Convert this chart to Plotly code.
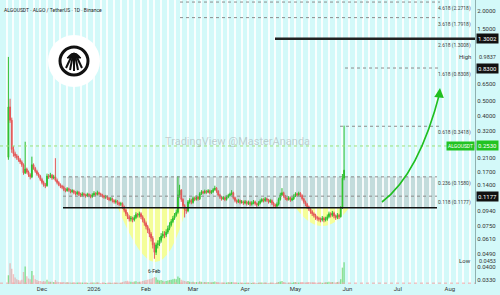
import math
import pandas as pd
import plotly.graph_objects as go

# ---------------- data ----------------
start_date = "2025-11-11"
first_open = 0.213
closes = [
    0.459, 0.375, 0.240, 0.225, 0.218, 0.212, 0.205, 0.198, 0.190, 0.168,
    0.178, 0.170, 0.163, 0.158, 0.190, 0.180, 0.172, 0.165, 0.160, 0.152,
    0.145, 0.140, 0.138, 0.160, 0.158, 0.162, 0.155, 0.158, 0.150, 0.145,
    0.140, 0.137, 0.135, 0.130, 0.128, 0.132, 0.129, 0.126, 0.128, 0.124,
    0.122, 0.125, 0.121, 0.119, 0.122, 0.120, 0.118, 0.121, 0.119, 0.117,
    0.120, 0.123, 0.121, 0.124, 0.122, 0.120, 0.118, 0.116, 0.117, 0.114,
    0.112, 0.113, 0.110, 0.108, 0.109, 0.106, 0.104, 0.105, 0.100, 0.095,
    0.090, 0.086, 0.083, 0.084, 0.082, 0.085, 0.089, 0.088, 0.090, 0.086,
    0.082, 0.078, 0.074, 0.070, 0.066, 0.062, 0.056, 0.050, 0.056, 0.057,
    0.060, 0.064, 0.066, 0.065, 0.068, 0.072, 0.076, 0.080, 0.084, 0.088,
    0.092, 0.120, 0.129, 0.112, 0.102, 0.096, 0.094, 0.108, 0.110, 0.107,
    0.114, 0.112, 0.116, 0.113, 0.122, 0.126, 0.124, 0.127, 0.125, 0.128,
    0.124, 0.126, 0.130, 0.133, 0.127, 0.120, 0.116, 0.113, 0.115, 0.112,
    0.116, 0.119, 0.121, 0.124, 0.115, 0.110, 0.108, 0.110, 0.107, 0.108,
    0.106, 0.108, 0.105, 0.107, 0.104, 0.106, 0.108, 0.105, 0.103, 0.106,
    0.109, 0.112, 0.110, 0.113, 0.111, 0.108, 0.110, 0.106, 0.103, 0.101,
    0.104, 0.112, 0.120, 0.124, 0.118, 0.114, 0.112, 0.115, 0.111, 0.113,
    0.118, 0.122, 0.120, 0.123, 0.119, 0.113, 0.108, 0.104, 0.100, 0.097,
    0.093, 0.090, 0.088, 0.085, 0.084, 0.083, 0.082, 0.084, 0.082, 0.083,
    0.086, 0.090, 0.088, 0.091, 0.087, 0.085, 0.088, 0.086, 0.098, 0.155,
    0.175,
]
highs = [
    0.984, 0.52, 0.39, 0.252, 0.232, 0.224, 0.218, 0.210, 0.203, 0.194,
    0.27, 0.182, 0.174, 0.167, 0.215, 0.194, 0.184, 0.176, 0.169, 0.163,
    0.156, 0.149, 0.144, 0.166, 0.165, 0.168, 0.165, 0.163, 0.21, 0.154,
    0.148, 0.143, 0.140, 0.138, 0.133, 0.135, 0.134, 0.131, 0.131, 0.130,
    0.127, 0.128, 0.127, 0.124, 0.125, 0.124, 0.122, 0.124, 0.123, 0.121,
    0.123, 0.127, 0.125, 0.128, 0.126, 0.124, 0.122, 0.120, 0.120, 0.119,
    0.116, 0.116, 0.115, 0.112, 0.112, 0.111, 0.108, 0.108, 0.107, 0.102,
    0.097, 0.092, 0.088, 0.087, 0.086, 0.088, 0.092, 0.091, 0.093, 0.092,
    0.088, 0.084, 0.080, 0.076, 0.072, 0.068, 0.064, 0.058, 0.058, 0.060,
    0.063, 0.067, 0.069, 0.069, 0.071, 0.075, 0.079, 0.083, 0.087, 0.091,
    0.096, 0.160, 0.140, 0.131, 0.114, 0.104, 0.099, 0.111, 0.114, 0.113,
    0.117, 0.117, 0.119, 0.118, 0.125, 0.129, 0.128, 0.130, 0.129, 0.131,
    0.130, 0.129, 0.133, 0.138, 0.135, 0.129, 0.122, 0.118, 0.118, 0.117,
    0.119, 0.122, 0.124, 0.129, 0.126, 0.117, 0.112, 0.113, 0.112, 0.111,
    0.110, 0.111, 0.110, 0.110, 0.109, 0.109, 0.111, 0.110, 0.107, 0.109,
    0.112, 0.115, 0.114, 0.116, 0.115, 0.113, 0.113, 0.112, 0.108, 0.105,
    0.107, 0.115, 0.124, 0.133, 0.126, 0.120, 0.116, 0.118, 0.117, 0.116,
    0.121, 0.125, 0.124, 0.126, 0.125, 0.121, 0.115, 0.110, 0.106, 0.102,
    0.099, 0.095, 0.092, 0.090, 0.087, 0.086, 0.085, 0.087, 0.086, 0.086,
    0.089, 0.093, 0.092, 0.094, 0.093, 0.089, 0.091, 0.090, 0.101, 0.165,
    0.345,
]
lows = [
    0.205, 0.36, 0.228, 0.215, 0.210, 0.205, 0.199, 0.192, 0.184, 0.163,
    0.165, 0.166, 0.158, 0.152, 0.155, 0.176, 0.168, 0.161, 0.156, 0.148,
    0.141, 0.136, 0.133, 0.136, 0.153, 0.155, 0.151, 0.152, 0.147, 0.141,
    0.137, 0.133, 0.131, 0.127, 0.125, 0.126, 0.126, 0.123, 0.124, 0.121,
    0.119, 0.120, 0.118, 0.116, 0.117, 0.117, 0.115, 0.116, 0.116, 0.114,
    0.115, 0.118, 0.118, 0.119, 0.119, 0.117, 0.115, 0.113, 0.113, 0.111,
    0.109, 0.109, 0.107, 0.105, 0.105, 0.103, 0.101, 0.101, 0.097, 0.092,
    0.087, 0.083, 0.080, 0.080, 0.079, 0.080, 0.083, 0.085, 0.085, 0.083,
    0.079, 0.075, 0.071, 0.067, 0.063, 0.059, 0.053, 0.0453, 0.048, 0.053,
    0.055, 0.058, 0.062, 0.062, 0.063, 0.066, 0.070, 0.074, 0.078, 0.082,
    0.086, 0.090, 0.115, 0.108, 0.098, 0.085, 0.090, 0.092, 0.105, 0.104,
    0.105, 0.109, 0.110, 0.110, 0.111, 0.120, 0.121, 0.122, 0.122, 0.123,
    0.121, 0.122, 0.124, 0.128, 0.124, 0.117, 0.113, 0.110, 0.111, 0.109,
    0.110, 0.114, 0.117, 0.119, 0.112, 0.107, 0.105, 0.106, 0.104, 0.105,
    0.103, 0.104, 0.102, 0.103, 0.101, 0.102, 0.104, 0.102, 0.100, 0.101,
    0.104, 0.107, 0.107, 0.108, 0.108, 0.105, 0.106, 0.103, 0.100, 0.098,
    0.099, 0.102, 0.110, 0.118, 0.115, 0.111, 0.109, 0.110, 0.108, 0.109,
    0.111, 0.116, 0.117, 0.118, 0.116, 0.110, 0.105, 0.101, 0.097, 0.094,
    0.090, 0.087, 0.085, 0.082, 0.081, 0.080, 0.079, 0.080, 0.079, 0.080,
    0.081, 0.084, 0.085, 0.086, 0.084, 0.082, 0.083, 0.083, 0.085, 0.097,
    0.150,
]
volumes = [
    40, 95, 70, 45, 30, 22, 18, 16, 20, 55,
    80, 35, 25, 22, 60, 40, 22, 18, 14, 14,
    12, 14, 12, 20, 12, 10, 10, 9, 18, 10,
    9, 8, 8, 9, 7, 8, 7, 7, 6, 7,
    6, 7, 6, 6, 7, 6, 5, 6, 5, 5,
    6, 7, 6, 7, 6, 5, 6, 5, 5, 6,
    5, 5, 6, 6, 5, 6, 6, 5, 9, 12,
    14, 15, 12, 10, 9, 11, 13, 9, 10, 11,
    14, 16, 18, 20, 22, 24, 28, 32, 30, 20,
    16, 18, 15, 12, 14, 16, 18, 20, 22, 24,
    22, 34, 28, 20, 16, 14, 12, 14, 10, 9,
    10, 8, 9, 8, 11, 10, 8, 9, 8, 9,
    8, 7, 9, 11, 9, 8, 7, 7, 6, 6,
    7, 8, 7, 9, 8, 7, 6, 6, 6, 5,
    5, 6, 5, 5, 6, 5, 5, 6, 5, 5,
    6, 7, 6, 6, 5, 5, 6, 5, 6, 5,
    6, 9, 12, 14, 9, 7, 6, 6, 5, 6,
    8, 9, 7, 7, 8, 9, 8, 7, 8, 9,
    8, 8, 7, 7, 6, 6, 7, 6, 6, 7,
    8, 10, 8, 9, 8, 7, 9, 10, 22, 75,
    100,
]

month_ticks = ["2025-12-01", "2026-01-01", "2026-02-01", "2026-03-01", "2026-04-01",
               "2026-05-01", "2026-06-01", "2026-07-01", "2026-08-01"]
month_labels = ["Dec", "2026", "Feb", "Mar", "Apr", "May", "Jun", "Jul", "Aug"]
price_ticks = [0.033, 0.040, 0.049, 0.061, 0.075, 0.094, 0.14, 0.17, 0.21,
               0.32, 0.40, 0.50, 0.65, 1.5, 2.0]
price_tick_labels = ["%.4f" % v for v in price_ticks]

fib_labels = ["4.618 (2.2718)", "3.618 (1.7918)", "2.618 (1.3008)", "1.618 (0.8308)",
              "0.618 (0.3418)", "0.236 (0.1580)", "0.118 (0.1177)"]
fib_values = [2.2718, 1.7918, 1.3002, 0.8308, 0.3418, 0.158, 0.1177]
support_value = 0.0985
high_value = 0.9837
low_value = 0.0453
current_price = 0.2530
low_date = "2026-02-06"

# ---------------- figure ----------------
dates = pd.date_range(start_date, periods=len(closes), freq="D")
opens = [first_open] + closes[:-1]

UP = "#2dbf2d"
DN = "#e45757"
BG = "#d3f9f9"

PW, PH = 475.0, 284.0


def xp(px):
    return px / PW


def yp(py):
    return 1 - py / PH


fig = go.Figure()

vol_colors = ["rgba(60,200,60,0.55)" if c >= o else "rgba(235,120,120,0.45)"
              for o, c in zip(opens, closes)]
fig.add_trace(go.Bar(x=dates, y=volumes, marker=dict(color=vol_colors, line=dict(width=0)),
                     yaxis="y2", hoverinfo="skip"))

fig.add_trace(go.Candlestick(
    x=dates, open=opens, high=highs, low=lows, close=closes,
    increasing=dict(line=dict(color=UP, width=1), fillcolor=UP),
    decreasing=dict(line=dict(color=DN, width=1), fillcolor=DN),
    whiskerwidth=0,
))

shapes = []
# gray zone
shapes.append(dict(type="rect", xref="paper", yref="y", x0=xp(63), x1=xp(437),
                   y0=support_value, y1=fib_values[5], fillcolor="rgba(165,165,165,0.35)",
                   line=dict(width=0), layer="below"))
# yellow cups
shapes.append(dict(type="path", xref="paper", yref="paper",
                   path="M %f,%f Q %f,%f %f,%f Q %f,%f %f,%f Z" % (
                       xp(118), yp(208), xp(140), yp(262), xp(155), yp(262),
                       xp(172), yp(262), xp(186), yp(208)),
                   fillcolor="rgba(255,255,120,0.75)", line=dict(width=0), layer="below"))
shapes.append(dict(type="path", xref="paper", yref="paper",
                   path="M %f,%f Q %f,%f %f,%f Z" % (xp(296), yp(208), xp(322), yp(244), xp(349), yp(208)),
                   fillcolor="rgba(255,255,120,0.75)", line=dict(width=0), layer="below"))

fib_extents = [(180, 440), (180, 440), (275, 475), (345, 440), (340, 440), (63, 437), (63, 437)]
for i, (v, (a, b)) in enumerate(zip(fib_values, fib_extents)):
    if i == 2:
        line = dict(color="#222", width=2.5)
    else:
        line = dict(color="#8c8c8c", width=1, dash="dot")
    shapes.append(dict(type="line", xref="paper", yref="y", x0=xp(a), x1=xp(b), y0=v, y1=v,
                       line=line, layer="above"))
# support line
shapes.append(dict(type="line", xref="paper", yref="y", x0=xp(63), x1=xp(437),
                   y0=support_value, y1=support_value, line=dict(color="#111", width=1.5)))
# current price dotted line
shapes.append(dict(type="line", xref="paper", yref="y", x0=0, x1=1, y0=current_price, y1=current_price,
                   line=dict(color="#9be07a", width=1, dash="dot")))
# bottom pink dotted line
shapes.append(dict(type="line", xref="paper", yref="paper", x0=0, x1=1, y0=0.003, y1=0.003,
                   line=dict(color="#f0a8a8", width=1, dash="dot")))
# green curved arrow
shapes.append(dict(type="path", xref="paper", yref="paper",
                   path="M %f,%f Q %f,%f %f,%f" % (xp(382), yp(202), xp(419), yp(174), xp(440), yp(92)),
                   line=dict(color="#1fbf1f", width=1.6)))
# logo
shapes.append(dict(type="circle", xref="paper", yref="paper",
                   x0=xp(48), x1=xp(100), y0=yp(87), y1=yp(35),
                   fillcolor="white", line=dict(width=0)))
shapes.append(dict(type="circle", xref="paper", yref="paper",
                   x0=xp(60), x1=xp(88), y0=yp(75), y1=yp(47),
                   fillcolor="rgba(0,0,0,0)", line=dict(color="#111", width=3)))
shapes.append(dict(type="path", xref="paper", yref="paper",
                   path="M %f,%f Q %f,%f %f,%f Z" % (xp(67), yp(58), xp(74), yp(48), xp(81), yp(58)),
                   fillcolor="#111", line=dict(color="#111", width=1)))
for ex, ey in [(66, 68), (70, 70), (74, 71), (78, 70), (82, 68)]:
    shapes.append(dict(type="line", xref="paper", yref="paper",
                       x0=xp(74 + (ex - 74) * 0.35), y0=yp(57), x1=xp(ex), y1=yp(ey),
                       line=dict(color="#111", width=2)))

annotations = []
small = dict(family="Roboto", size=6, color="#333")
for lab, v in zip(fib_labels, fib_values):
    annotations.append(dict(xref="paper", yref="y", x=xp(473), y=math.log10(v), xanchor="right",
                            yanchor="top", yshift=-1, text=lab, showarrow=False,
                            font=dict(family="Roboto", size=5, color="#444")))
# right-axis labels
for v, txt, bg in [(1.3002, "1.3002", "#111"), (0.83, "0.8300", "#111"), (0.1177, "0.1177", "#111"),
                   (current_price, "%.4f" % current_price, "#22c322")]:
    annotations.append(dict(xref="paper", yref="y", x=1, y=math.log10(v), xanchor="left", xshift=1,
                            text=txt, showarrow=False, bgcolor=bg, borderpad=1,
                            font=dict(family="Roboto", size=6, color="white")))
annotations.append(dict(xref="paper", yref="y", x=1, y=math.log10(current_price), xanchor="right",
                        text="ALGOUSDT", showarrow=False, bgcolor="#22c322", borderpad=1,
                        font=dict(family="Roboto", size=5, color="white")))
for v, name, shift in [(high_value, "High", 0), (low_value, "Low", -2)]:
    annotations.append(dict(xref="paper", yref="y", x=1, y=math.log10(v), xanchor="left", xshift=2,
                            yshift=shift, text="%.4f" % v, showarrow=False,
                            font=dict(family="Roboto", size=5.5, color="#333")))
    annotations.append(dict(xref="paper", yref="y", x=xp(473), y=math.log10(v), xanchor="right",
                            yshift=shift, text=name, showarrow=False, font=small))
annotations.append(dict(xref="x", yref="y", x=low_date, y=math.log10(low_value) - 0.05,
                        text="6-Feb", showarrow=False, yanchor="top",
                        font=dict(family="Roboto", size=5, color="#222")))
annotations.append(dict(xref="paper", yref="paper", x=0.004, y=1 - 5 / PH, xanchor="left",
                        text="ALGOUSDT · ALGO / TetherUS · 1D · Binance", showarrow=False,
                        font=dict(family="Roboto", size=5, color="#222")))
annotations.append(dict(xref="paper", yref="paper", x=xp(237), y=yp(141),
                        text="TradingView @MasterAnanda", showarrow=False,
                        font=dict(family="Roboto", size=11, color="rgba(150,150,150,0.45)")))
# arrow head
annotations.append(dict(xref="paper", yref="paper", x=xp(440), y=yp(88), text="",
                        showarrow=True, arrowhead=2, arrowsize=1.2, arrowwidth=1.6,
                        arrowcolor="#1fbf1f", ax=-1, ay=10))

fig.update_layout(
    width=500, height=295,
    margin=dict(l=0, r=25, t=0, b=11),
    plot_bgcolor=BG, paper_bgcolor=BG,
    showlegend=False,
    shapes=shapes,
    annotations=annotations,
    bargap=0.2,
    xaxis=dict(
        type="date", range=["2025-11-06", "2026-08-16"],
        tickmode="array", tickvals=month_ticks, ticktext=month_labels,
        tickfont=dict(family="Roboto", size=6, color="#333"),
        showgrid=False, zeroline=False, showline=False, ticks="",
        rangeslider=dict(visible=False),
        minor=dict(showgrid=True, gridcolor="rgba(255,255,255,0.85)", gridwidth=1.5,
                   tickmode="linear", tick0="2025-11-06", dtick=4 * 86400000),
    ),
    yaxis=dict(
        type="log", range=[-1.511, 0.370], side="right",
        tickmode="array", tickvals=price_ticks, ticktext=price_tick_labels,
        tickfont=dict(family="Roboto", size=6, color="#333"),
        showgrid=False, zeroline=False, showline=True, linecolor="#8fb0b0", linewidth=1,
        ticks="",
    ),
    yaxis2=dict(overlaying="y", range=[0, 1300], visible=False),
)

fig.write_html("out.html")
